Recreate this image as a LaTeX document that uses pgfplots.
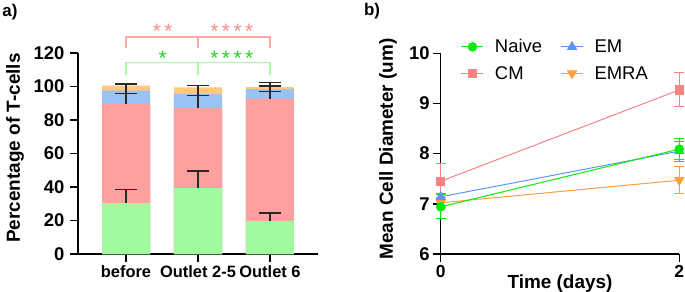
\documentclass[border=0pt]{standalone}
\usepackage{pgfplots}
\pgfplotsset{compat=1.18}
\usepackage{fontspec}
\setmainfont{Liberation Sans}
\definecolor{gbar}{RGB}{160,250,160}
\definecolor{rbar}{RGB}{255,160,160}
\definecolor{bbar}{RGB}{153,194,245}
\definecolor{obar}{RGB}{255,200,130}
\definecolor{brpink}{RGB}{255,170,170}
\definecolor{brgreen}{RGB}{170,245,170}
\definecolor{astpink}{RGB}{245,140,140}
\definecolor{astgreen}{RGB}{40,210,40}
\definecolor{naive}{RGB}{10,235,10}
\definecolor{cmc}{RGB}{250,130,130}
\definecolor{emc}{RGB}{90,150,240}
\definecolor{emra}{RGB}{255,160,60}
\definecolor{errc}{RGB}{40,40,40}
\begin{document}
\begin{tikzpicture}[x=1bp,y=1bp]
\useasboundingbox (0bp,0bp) rectangle (685bp,292bp);
\pgfplotsset{
  myaxis/.style={
    scale only axis, clip=false,
    axis x line*=bottom, axis y line*=left,
    axis line style={line width=1.5bp, -, black},
    every outer x axis line/.append style={-},
    every outer y axis line/.append style={-},
    tick align=outside, major tick length=8bp,
    tick style={line width=1.5bp, black},
    /pgf/number format/assume math mode=true,
    ticklabel style={font=\fontsize{17}{20}\selectfont\bfseries},
    yticklabel style={font=\fontsize{18.5}{22}\selectfont\bfseries},
  },
  errl/.style={draw=none, forget plot, error bars/.cd, y explicit, y dir=#1,
    error bar style={draw=errc, line width=1.5bp},
    error mark options={draw=errc, line width=1.5bp, mark size=11bp, rotate=90}},
}
% ---------- panel a ----------
\begin{axis}[myaxis, at={(78bp,38bp)}, anchor=south west,
  width=240bp, height=201bp,
  xmin=-0.667, xmax=2.667, ymin=0, ymax=120,
  xtick={0,1,2}, xticklabels={before, Outlet 2-5, Outlet 6},
  xticklabel style={font=\fontsize{16.5}{20}\selectfont\bfseries, inner xsep=0pt},
  ytick={0,20,...,120},
  yticklabel style={inner xsep=5.5bp}]
\addplot[ybar, bar width=0.667, bar shift=0pt, fill=obar, draw=none]
  coordinates {(0,100.5) (1,99.5) (2,99.7)};
\addplot[ybar, bar width=0.667, bar shift=0pt, fill=bbar, draw=none]
  coordinates {(0,97.5) (1,95.5) (2,98.5)};
\addplot[ybar, bar width=0.667, bar shift=0pt, fill=rbar, draw=none]
  coordinates {(0,89.7) (1,87.3) (2,92.7)};
\addplot[ybar, bar width=0.667, bar shift=0pt, fill=gbar, draw=none]
  coordinates {(0,30.3) (1,39.4) (2,19.7)};
% error bars
\addplot[errl=plus] coordinates {(0,30.3) += (0,8.3) (1,39.4) += (0,10.3) (2,19.7) += (0,4.8)};
\addplot[errl=plus] coordinates {(0,89.7) += (0,6.0) (1,87.3) += (0,7.2) (2,92.7) += (0,4.4)};
\addplot[errl=both] coordinates {(0,97.5) += (0,4.0) -= (0,1.8) (1,95.5) += (0,5.0) -= (0,1.0) (2,98.5) += (0,1.8) -= (0,1.4)};
\addplot[errl=plus] coordinates {(2,99.7) += (0,2.6)};
% brackets
\addplot[brpink, line width=1.5bp, forget plot] coordinates {(0,123) (0,129.7) (2,129.7) (2,123)};
\addplot[brpink, line width=1.5bp, forget plot] coordinates {(1,129.7) (1,123)};
\addplot[brgreen, line width=1.5bp, forget plot] coordinates {(0,106.9) (0,114.4) (2,114.4) (2,106.9)};
\addplot[brgreen, line width=1.5bp, forget plot] coordinates {(1,114.4) (1,106.9)};
\node[text=astpink, font=\fontsize{21}{24}\selectfont] at (axis cs:0.51,132.7) {*\,*};
\node[text=astpink, font=\fontsize{21}{24}\selectfont] at (axis cs:1.47,132.7) {*\,*\,*\,*};
\node[text=astgreen, font=\fontsize{21}{24}\selectfont] at (axis cs:0.51,116.8) {*};
\node[text=astgreen, font=\fontsize{21}{24}\selectfont] at (axis cs:1.47,116.8) {*\,*\,*\,*};
\end{axis}
\node[rotate=90, font=\fontsize{19}{22}\selectfont\bfseries] at (15bp,144bp) {Percentage of T-cells};
\node[font=\fontsize{17}{20}\selectfont\bfseries] at (10bp,280bp) {a)};
% ---------- panel b ----------
\begin{axis}[myaxis, at={(440.7bp,38bp)}, anchor=south west,
  width=238.6bp, height=200.7bp,
  xmin=0, xmax=2, ymin=6, ymax=10,
  xtick={0,2}, ytick={6,7,8,9,10},
  xticklabel style={font=\fontsize{17.5}{20}\selectfont\bfseries},
  yticklabel style={inner xsep=3bp},
  legend columns=2,
  legend cell align=left,
  legend style={at={(axis description cs:0.084,1.07)}, anchor=north west,
    draw=none, fill=none, inner sep=0pt, font=\fontsize{18.5}{22}\selectfont,
    nodes={inner sep=0pt},
    /tikz/every odd column/.append style={column sep=11bp},
    /tikz/every even column/.append style={column sep=18.5bp},
    row sep=12bp},
  legend image code/.code={\draw[mark repeat=2,mark phase=2] plot coordinates {(0bp,0bp) (11bp,0bp) (22bp,0bp)};},
  ]
\addplot[emra, line width=1bp, mark=triangle*, mark size=5bp, mark options={rotate=180},
  forget plot, error bars/.cd, y dir=both, y explicit,
  error bar style={line width=1bp}, error mark options={line width=1bp, mark size=5bp, rotate=90}]
  coordinates {(0,7.02) +- (0,0.10) (2,7.47) +- (0,0.27)};
\addplot[cmc, line width=1bp, mark=square*, mark size=4.2bp,
  forget plot, error bars/.cd, y dir=both, y explicit,
  error bar style={line width=1bp}, error mark options={line width=1bp, mark size=5bp, rotate=90}]
  coordinates {(0,7.45) +- (0,0.36) (2,9.27) +- (0,0.34)};
\addplot[emc, line width=1bp, mark=triangle*, mark size=5bp,
  forget plot, error bars/.cd, y dir=both, y explicit,
  error bar style={line width=1bp}, error mark options={line width=1bp, mark size=5bp, rotate=90}]
  coordinates {(0,7.14) +- (0,0.06) (2,8.05) +- (0,0.20)};
\addplot[naive, line width=1bp, mark=*, mark size=4.3bp,
  forget plot, error bars/.cd, y dir=both, y explicit,
  error bar style={line width=1bp}, error mark options={line width=1bp, mark size=5bp, rotate=90}]
  coordinates {(0,6.94) +- (0,0.24) (2,8.09) +- (0,0.21)};
\addlegendimage{naive, line width=1bp, mark=*, mark size=4.3bp}
\addlegendentry{Naive}
\addlegendimage{emc, line width=1bp, mark=triangle*, mark size=5bp}
\addlegendentry{EM}
\addlegendimage{cmc, line width=1bp, mark=square*, mark size=4.2bp}
\addlegendentry{CM}
\addlegendimage{emra, line width=1bp, mark=triangle*, mark size=5bp, mark options={rotate=180}}
\addlegendentry{EMRA}
\end{axis}
\node[font=\fontsize{19}{22}\selectfont\bfseries, anchor=north] at (560bp,20.5bp) {Time (days)};
\node[rotate=90, font=\fontsize{19}{22}\selectfont\bfseries] at (388bp,143bp) {Mean Cell Diameter (um)};
\node[font=\fontsize{17}{20}\selectfont\bfseries] at (372bp,281bp) {b)};
\end{tikzpicture}
\end{document}
